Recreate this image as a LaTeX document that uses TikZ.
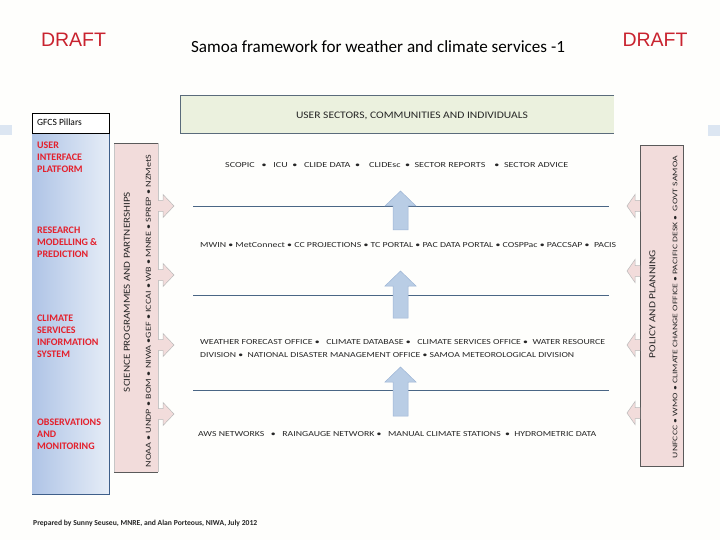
\documentclass[tikz,border=0pt]{standalone}
\usepackage{fontspec}
\setmainfont{Carlito}
\newfontfamily\arialf{Liberation Sans}
\usepackage{graphicx}
\definecolor{bgc}{HTML}{FEFEFC}
\definecolor{greenc}{HTML}{EBF1DE}
\definecolor{greenb}{HTML}{5A6B7B}
\definecolor{colL}{HTML}{AFC4E6}
\definecolor{colR}{HTML}{E6EDF7}
\definecolor{colB}{HTML}{3F5F8A}
\definecolor{pinkc}{HTML}{F2DCDB}
\definecolor{pinkb}{HTML}{5A5A5A}
\definecolor{arrblue}{HTML}{B9CDE5}
\definecolor{arrbord}{HTML}{9DB5D5}
\definecolor{linec}{HTML}{4A6685}
\definecolor{txtc}{HTML}{262626}
\definecolor{redc}{HTML}{E4202C}
\definecolor{draftc}{HTML}{C9232F}
\definecolor{tinyb}{HTML}{DCE6F2}
\newcommand\pinkR[2]{\filldraw[pinkarr] (#1,#2-5.5) -- (#1+5,#2-5.5) -- (#1+5,#2-11.5) -- (#1+16,#2) -- (#1+5,#2+11.5) -- (#1+5,#2+5.5) -- (#1,#2+5.5);}
\newcommand\pinkL[2]{\filldraw[pinkarr] (#1,#2-5.5) -- (#1-5,#2-5.5) -- (#1-5,#2-11.5) -- (#1-13,#2) -- (#1-5,#2+11.5) -- (#1-5,#2+5.5) -- (#1,#2+5.5);}
\newcommand\blueUp[3]{\filldraw[bluearr] (#1-7.5,#3) -- (#1-7.5,#2+15) -- (#1-15.5,#2+15) -- (#1,#2) -- (#1+15.5,#2+15) -- (#1+7.5,#2+15) -- (#1+7.5,#3) -- cycle;}
\begin{document}
\begin{tikzpicture}[x=1pt,y=-1pt,
  pinkarr/.style={fill=pinkc, draw=gray!55, line width=0.5pt},
  bluearr/.style={fill=arrblue, draw=arrbord, line width=0.5pt},
  sepline/.style={draw=linec, line width=0.8pt},
  rowtxt/.style={inner sep=0pt, anchor=west, text=txtc},
  vtxt/.style={inner sep=0pt, rotate=90, text=txtc},
  redlbl/.style={inner sep=0pt, anchor=north west, align=left, text=redc, font=\fontsize{10}{12}\selectfont\bfseries},
  draftlbl/.style={inner sep=0pt, text=draftc, font=\arialf\fontsize{19.5}{20}\selectfont}
]
\useasboundingbox (0,0) rectangle (720,540);
\fill[bgc] (0,0) rectangle (720,540);
% small slide artefacts
\fill[tinyb] (0,125) rectangle (12,135);
\fill[tinyb] (708,125) rectangle (720,136);

% header
\node[draftlbl] (draftL) at (73.5,40) {DRAFT};
\node[draftlbl] (draftR) at (655,40) {DRAFT};
\node[inner sep=0pt, text=black, font=\fontsize{17.1}{17}\selectfont] (title) at (378,47) {Samoa framework for weather and climate services -1};

% user sectors box
\fill[greenc] (180,95) rectangle (614,133);
\draw[greenb, line width=0.8pt] (614,95) -- (180,95) -- (180,133) -- (614,133);
\node[inner sep=0pt, text=txtc] (users) at (412,116) {\resizebox{232pt}{6.5pt}{USER SECTORS, COMMUNITIES AND INDIVIDUALS}};

% GFCS pillars column
\shade[left color=colL, right color=colR] (32,133) rectangle (109,494);
\draw[colB, line width=0.8pt] (109,133) -- (109,494) -- (32,494);
\filldraw[fill=white, draw=black, line width=0.6pt] (32,113) rectangle (109,133);
\node[inner sep=0pt, anchor=west, font=\fontsize{9.5}{10}\selectfont] (gfcs) at (37,122.5) {GFCS Pillars};
\node[redlbl] (p1) at (37,142) {USER\\INTERFACE\\PLATFORM};
\node[redlbl] (p2) at (37,227) {RESEARCH\\MODELLING \&\\PREDICTION};
\node[redlbl] (p3) at (37,315) {CLIMATE\\SERVICES\\INFORMATION\\SYSTEM};
\node[redlbl] (p4) at (37,419) {OBSERVATIONS\\AND\\MONITORING};

% left pink box
\fill[pinkc] (114,143) rectangle (158,472);
\draw[gray!45, line width=0.5pt] (114,143) -- (114,472) (158,143) -- (158,472);
\draw[pinkb, line width=0.8pt] (114,143) -- (158,143) (114,472) -- (158,472);
\node[vtxt] (sci) at (127,292) {\resizebox{200pt}{6pt}{SCIENCE PROGRAMMES AND PARTNERSHIPS}};
\node[vtxt] (scilist) at (148.5,311) {\resizebox{313pt}{5pt}{NOAA • UNDP • BOM • NIWA •GEF • ICCAI • WB • MNRE • SPREP • NZMetS}};
\pinkR{158}{206}
\pinkR{158}{275}
\pinkR{158}{345}
\pinkR{158}{414}

% right pink box
\filldraw[fill=pinkc, draw=pinkb, line width=0.8pt] (640,145) rectangle (683,466);
\node[vtxt] (pol) at (652.5,304) {\resizebox{108pt}{6pt}{POLICY AND PLANNING}};
\node[vtxt] (pollist) at (675,307) {\resizebox{302pt}{4.6pt}{UNFCCC • WMO • CLIMATE CHANGE OFFICE • PACIFIC DESK •\ \ GOVT SAMOA}};
\pinkL{640}{206}
\pinkL{640}{271}
\pinkL{640}{345}
\pinkL{640}{413}

% separator lines
\draw[sepline] (193,206) coordinate (l1a) -- (609,206) coordinate (l1b);
\draw[sepline] (193,295) coordinate (l2a) -- (609,295) coordinate (l2b);
\draw[sepline] (193,390) coordinate (l3a) -- (609,390) coordinate (l3b);

% rows
\node[rowtxt] (r1) at (225,165) {\resizebox{343pt}{5pt}{SCOPIC\ \ \ •\ \ \ ICU\ \ •\ \ \ CLIDE DATA\ \ •\ \ \ \ CLIDEsc\ \ •\ \ SECTOR REPORTS\ \ \ \ •\ \ SECTOR ADVICE}};
\node[rowtxt] (r2) at (200,245) {\resizebox{416pt}{5pt}{MWIN • MetConnect • CC PROJECTIONS • TC PORTAL • PAC DATA PORTAL • COSPPac • PACCSAP •\ \ PACIS}};
\node[rowtxt] (r3a) at (200,342) {\resizebox{405pt}{5pt}{WEATHER FORECAST OFFICE •\ \ \ CLIMATE DATABASE •\ \ \ CLIMATE SERVICES OFFICE •\ \ WATER RESOURCE}};
\node[rowtxt] (r3b) at (200,355) {\resizebox{374pt}{5pt}{DIVISION •\ \ NATIONAL DISASTER MANAGEMENT OFFICE • SAMOA METEOROLOGICAL DIVISION}};
\node[rowtxt] (r4) at (198,434) {\resizebox{398pt}{5pt}{AWS NETWORKS\ \ \ •\ \ \ RAINGAUGE NETWORK •\ \ \ MANUAL CLIMATE STATIONS\ \ •\ \ HYDROMETRIC DATA}};

% blue up arrows
\blueUp{400.5}{191}{230}
\blueUp{400.5}{271}{318}
\blueUp{400.5}{367}{416}

% footer
\node[inner sep=0pt, anchor=west, text=txtc] (foot) at (33,523) {\resizebox{224pt}{!}{\fontsize{6.5}{7}\selectfont\bfseries Prepared by Sunny Seuseu, MNRE, and Alan Porteous, NIWA, July 2012}};
\end{tikzpicture}
\end{document}
